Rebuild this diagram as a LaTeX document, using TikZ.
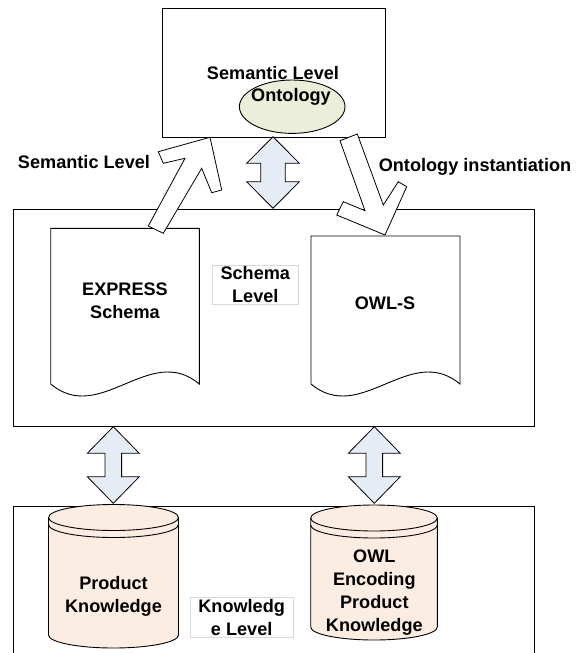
\documentclass[tikz,border=0pt]{standalone}
\usepackage{fontspec}
\setmainfont{Liberation Sans}
\definecolor{arrowblue}{HTML}{E6ECF6}
\definecolor{cylfill}{HTML}{FCEDE3}
\definecolor{ellfill}{HTML}{EBEED9}
\definecolor{lblgray}{HTML}{D9D9D9}
\newcommand\dblarr[6]{% x, ytop, ybot, head half width, shaft half width, head length
  \draw[blk] (#1,#2) -- ({#1+#4},{#2+#6}) -- ({#1+#5},{#2+#6}) -- ({#1+#5},{#3-#6})
    -- ({#1+#4},{#3-#6}) -- (#1,#3) -- ({#1-#4},{#3-#6}) -- ({#1-#5},{#3-#6})
    -- ({#1-#5},{#2+#6}) -- ({#1-#4},{#2+#6}) -- cycle;}
\newcommand\cylshape[5]{% cx, rx, ytop, ybot, ry
  \fill[cylfill] ({#1-#2},#3) -- ({#1-#2},#4)
    arc[start angle=180,end angle=0,x radius=#2,y radius=#5] -- ({#1+#2},#3)
    arc[start angle=0,end angle=-180,x radius=#2,y radius=#5] -- cycle;
  \draw[ln] ({#1-#2},#3) -- ({#1-#2},#4)
    arc[start angle=180,end angle=0,x radius=#2,y radius=#5] -- ({#1+#2},#3);
  \draw[ln] (#1,#3) ellipse[x radius=#2,y radius=#5];
  \draw[ln] ({#1-#2},{#3+7}) arc[start angle=180,end angle=0,x radius=#2,y radius=#5];}
\begin{document}
\begin{tikzpicture}[x=1bp,y=-1bp,
  ln/.style={draw=black,line width=0.9bp},
  box/.style={draw=black,line width=0.9bp,inner sep=0,anchor=north west},
  lbl/.style={font=\fontsize{18.2}{23}\bfseries\selectfont,align=center,inner sep=0},
  tagbox/.style={draw=lblgray,line width=0.6bp,inner sep=0,anchor=north west},
  blk/.style={draw=black,line width=0.8bp,fill=arrowblue,line join=miter},
  fat/.style={draw=black,line width=0.8bp,fill=white,line join=miter}]
\useasboundingbox (0,0) rectangle (578,653);
% level boxes
\node[box,minimum width=223bp,minimum height=128.4bp] (sem) at (162.3,8.3) {};
\node[box,minimum width=521bp,minimum height=217bp] (sch) at (13.3,209) {};
\coordinate (kbl) at (13.3,653);
\coordinate (kbtl) at (13.3,506);
\coordinate (kbtr) at (534.3,506);
\coordinate (kbr) at (534.3,653);
\draw[ln] (kbl) -- (kbtl) -- (kbtr) -- (kbr);
% ontology ellipse
\draw[ln,fill=ellfill] (292.2,106.7) ellipse[x radius=52.8,y radius=26.7];
% documents
\draw[ln,fill=white] (50.7,228.3) -- (199.3,228.3) -- (199.3,384)
  .. controls (149.8,342.4) and (100.2,425.6) .. (50.7,384) -- cycle;
\draw[ln,fill=white] (311,236) -- (460,236) -- (460,384)
  .. controls (410.3,342.4) and (360.7,425.6) .. (311,384) -- cycle;
% cylinders
\cylshape{113.5}{65}{517.5}{635}{13}
\cylshape{374}{63.3}{518}{627}{13}
% double arrows
\dblarr{273}{136.7}{208.3}{26.3}{12.2}{26.5}
\dblarr{113.3}{426.7}{503.3}{26}{8.3}{26.6}
\dblarr{374.3}{426.7}{503.3}{26}{8.3}{26.6}
% fat open arrows
\draw[fat] (210,137.3) -- (158.3,151.7) -- (163.3,163.3) -- (185,158.3) -- (148.3,226)
  -- (163.3,233.3) -- (201.7,168.3) -- (211.7,192.7) -- (221.7,190) -- cycle;
\draw[fat] (385,235) -- (336.7,215) -- (343.3,201.7) -- (365,210.7) -- (340,140.7)
  -- (357.3,134) -- (383.3,205) -- (398.3,181.7) -- (406.7,186.7) -- cycle;
% labels
\node[lbl] (t1) at (273,73) {Semantic Level};
\node[lbl] (t2) at (291,97) {Ontology};
\node[lbl] (t3) at (84,161.7) {Semantic Level};
\node[lbl] (t4) at (475,166.7) {Ontology instantiation};
\node[lbl] (t5) at (125,300.5) {EXPRESS\\Schema};
\node[lbl] (t6) at (385,303.3) {OWL-S};
\node[tagbox,minimum width=86.6bp,minimum height=39.3bp] (sl) at (211.7,265) {};
\node[lbl] (t7) at (sl.center) {Schema\\Level};
\node[lbl] (t8) at (113.5,596.7) {Product\\Knowledge};
\node[lbl] (t9) at (374.3,592.7) {OWL\\Encoding\\Product\\Knowledge};
\node[tagbox,minimum width=102.7bp,minimum height=39.4bp] (kl) at (190,597.3) {};
\node[lbl] (t10) at (kl.center) {Knowledg\\e Level};
\end{tikzpicture}
\end{document}
